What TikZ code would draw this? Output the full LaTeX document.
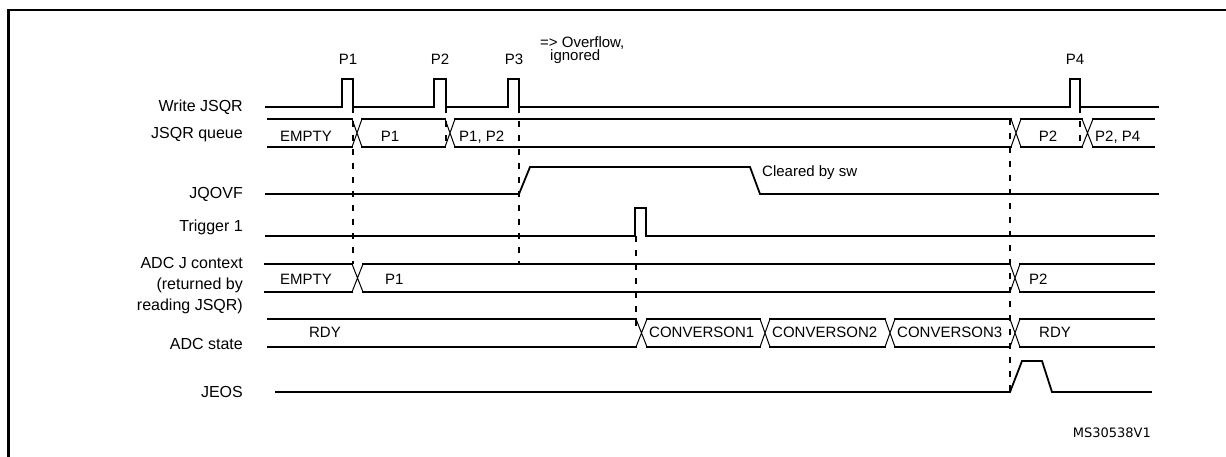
\documentclass[tikz,border=0pt]{standalone}
\usepackage{fontspec}
\setmainfont{Liberation Sans}
\newfontfamily\msfont{DejaVu Sans}
\usetikzlibrary{positioning}

\begin{document}
\begin{tikzpicture}[x=1pt, y=-1pt,
  sig/.style={line width=1.8pt, line cap=rect},
  guide/.style={line width=1.8pt, dash pattern=on 6pt off 8pt},
  rowlab/.style={anchor=base east, inner sep=0pt, font=\fontsize{16}{21}\selectfont, align=right},
  val/.style={anchor=base west, inner sep=0pt, font=\fontsize{15}{18}\selectfont},
  note/.style={anchor=base west, inner sep=0pt, font=\fontsize{15}{11}\selectfont, align=left}]
  \useasboundingbox (0,0) rectangle (1226,457);
  \clip (0,0) rectangle (1226,457);
  % frame
  \draw[line width=2.7pt] (8.7,470) -- (8.7,10) -- (1240,10);

  % row labels
  \node[rowlab] (lwrite) at (243,112) {Write JSQR};
  \node[rowlab] (lqueue) at (243,139) {JSQR queue};
  \node[rowlab] (lovf) at (243,199) {JQOVF};
  \node[rowlab] (ltrig) at (243,232) {Trigger 1};
  \node[rowlab] (lctx) at (243,310) {ADC J context\\(returned by\\reading JSQR)};
  \node[rowlab] (lstate) at (243,349) {ADC state};
  \node[rowlab] (ljeos) at (243,397) {JEOS};

  % Write JSQR
  \draw[sig] (266,107) -- (342,107) -- (342,79) -- (353,79) -- (353,107)
    -- (434,107) -- (434,79) -- (446,79) -- (446,107)
    -- (508,107) -- (508,79) -- (519,79) -- (519,107)
    -- (1070,107) -- (1070,79) -- (1080,79) -- (1080,107) -- (1158,107);
  \node[val, anchor=base] (p1) at (348,65) {P1};
  \node[val, anchor=base] (p2) at (440,65) {P2};
  \node[val, anchor=base] (p3) at (514,65) {P3};
  \node[val, anchor=base] (p4) at (1075,65) {P4};
  \node[note] (ovf) at (540,61) {=> Overflow,\\\hspace{10pt}ignored};

  % JSQR queue
  \foreach \a/\b in {268/352, 362/445, 455/1011, 1021/1082, 1093/1154}
    \draw[sig] (\a,119) -- (\b,119) (\a,147) -- (\b,147);
  \foreach \a/\b in {352/362, 445/455, 1011/1021, 1082/1093}
    \draw[line width=1pt] (\a,119) -- (\b,147) (\a,147) -- (\b,119);
  \node[val, anchor=base] (qempty) at (306,142) {EMPTY};
  \node[val, anchor=base] (qp1) at (390,142) {P1};
  \node[val] (qp12) at (459,142) {P1, P2};
  \node[val, anchor=base] (qp2) at (1048,142) {P2};
  \node[val] (qp24) at (1095,142) {P2, P4};

  % JQOVF
  \draw[sig] (266,194) -- (519,194) -- (530,167) -- (750,167) -- (760,194) -- (1158,194);
  \node[val] (clr) at (762,177) {Cleared by sw};

  % Trigger 1
  \draw[sig] (266,236) -- (635,236) -- (635,208) -- (646,208) -- (646,236) -- (1154,236);

  % ADC J context
  \foreach \a/\b in {265/352, 363/1010, 1020/1154}
    \draw[sig] (\a,264) -- (\b,264) (\a,292) -- (\b,292);
  \foreach \a/\b in {352/363, 1010/1020}
    \draw[line width=1pt] (\a,264) -- (\b,292) (\a,292) -- (\b,264);
  \node[val, anchor=base] (cempty) at (306,284) {EMPTY};
  \node[val] (cp1) at (385,284) {P1};
  \node[val] (cp2) at (1029,284) {P2};

  % ADC state
  \foreach \a/\b in {268/636, 647/760, 770/885, 895/1010, 1020/1154}
    \draw[sig] (\a,319) -- (\b,319) (\a,347) -- (\b,347);
  \foreach \a/\b in {636/647, 760/770, 885/895, 1010/1020}
    \draw[line width=1pt] (\a,319) -- (\b,347) (\a,347) -- (\b,319);
  \node[val, anchor=base] (srdy) at (325,337) {RDY};
  \node[val] (sc1) at (649,337) {CONVERSON1};
  \node[val] (sc2) at (772,337) {CONVERSON2};
  \node[val] (sc3) at (897,337) {CONVERSON3};
  \node[val] (srdy2) at (1039,337) {RDY};

  % JEOS
  \draw[sig] (276,392) -- (1010,392) -- (1022,361) -- (1042,361) -- (1052,392) -- (1151,392);

  % dashed guides
  \draw[guide] (353,107) -- (353,264);
  \draw[guide] (446,107) -- (446,147);
  \draw[guide] (519,107) -- (519,264);
  \draw[guide] (1080,107) -- (1080,147);
  \draw[guide] (636,236) -- (636,333);
  \draw[guide] (1010,119) -- (1010,392);

  \node[anchor=base east, inner sep=0pt, font=\msfont\fontsize{13}{15}\selectfont] (ref) at (1151,437) {MS30538V1};
\end{tikzpicture}
\end{document}
